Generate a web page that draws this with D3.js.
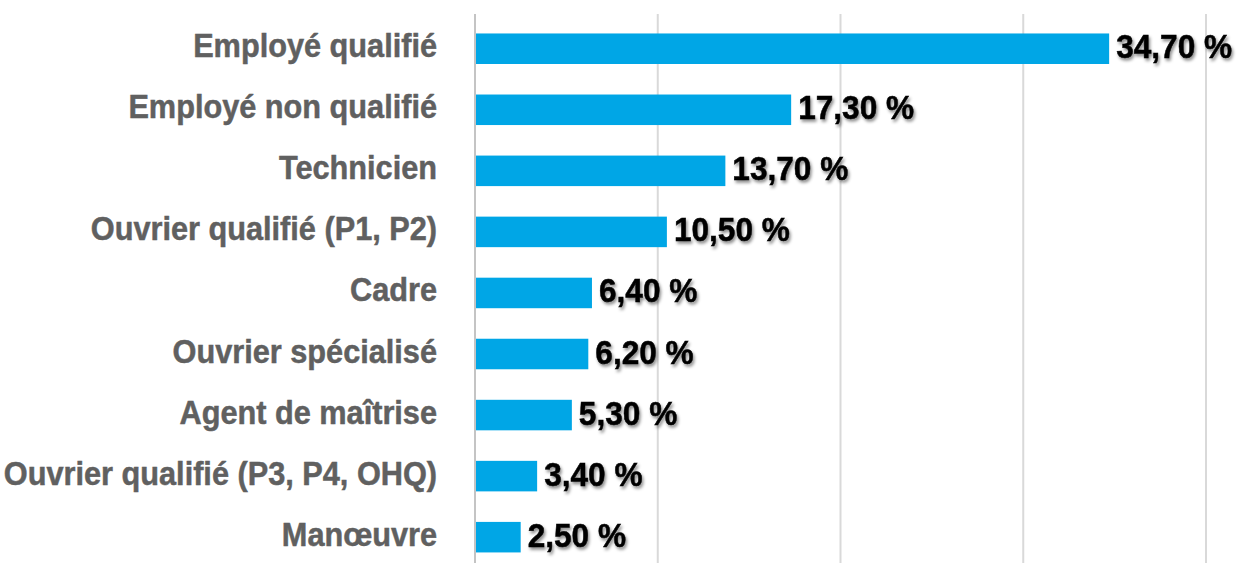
<!DOCTYPE html>
<html>
<head>
<meta charset="utf-8">
<script src="https://cdn.jsdelivr.net/npm/d3@7"></script>
<style>
  html, body { margin: 0; padding: 0; background: #fff; }
  svg { display: block; }
</style>
</head>
<body>
<svg id="chart" width="1239" height="563"></svg>
<script>
// Répartition par catégorie socioprofessionnelle (%)
const categories = [
  "Employé qualifié",
  "Employé non qualifié",
  "Technicien",
  "Ouvrier qualifié (P1, P2)",
  "Cadre",
  "Ouvrier spécialisé",
  "Agent de maîtrise",
  "Ouvrier qualifié (P3, P4, OHQ)",
  "Manœuvre"
];
const values = [34.7, 17.3, 13.7, 10.5, 6.4, 6.2, 5.3, 3.4, 2.5];
const gridTicks = [0, 10, 20, 30, 40];

const svg = d3.select("#chart");
const W = 1239, H = 563;

const x = d3.scaleLinear().domain([0, 40]).range([475, 1206]);
const y = d3.scaleBand()
  .domain(categories)
  .range([18.2, 567.7])
  .paddingInner(0.5)
  .paddingOuter(0.25);

const fmt = v => d3.format(".2f")(v).replace(".", ",") + " %";
const FONT = "'Liberation Sans', Arial, sans-serif";
const FS = 34;

// soft drop shadow for the value labels
const defs = svg.append("defs");
const f = defs.append("filter").attr("id", "shadow")
  .attr("x", "-10%").attr("y", "-30%").attr("width", "130%").attr("height", "170%");
f.append("feDropShadow")
  .attr("dx", 1.5).attr("dy", 2.5).attr("stdDeviation", 1.8)
  .attr("flood-color", "#000").attr("flood-opacity", 0.45);

// vertical gridlines
svg.append("g").selectAll("line")
  .data(gridTicks.filter(d => d > 0))
  .join("line")
  .attr("x1", d => x(d)).attr("x2", d => x(d))
  .attr("y1", 14).attr("y2", H)
  .attr("stroke", "#d9d9d9").attr("stroke-width", 2);

// bars
svg.append("g").selectAll("rect")
  .data(categories)
  .join("rect")
  .attr("x", x(0))
  .attr("y", d => y(d))
  .attr("width", (d, i) => x(values[i]) - x(0))
  .attr("height", y.bandwidth())
  .attr("fill", "#00a6e6");

// category axis line
svg.append("line")
  .attr("x1", x(0)).attr("x2", x(0))
  .attr("y1", 14).attr("y2", H)
  .attr("stroke", "#c4c4c4").attr("stroke-width", 2);

// category labels (condensed by a horizontal squeeze)
const catText = svg.append("g").selectAll("text")
  .data(categories)
  .join("text")
  .attr("text-anchor", "end")
  .attr("font-family", FONT)
  .attr("font-weight", "bold")
  .attr("font-size", FS)
  .attr("fill", "#606060")
  .attr("stroke", "#606060")
  .attr("stroke-width", 0.5)
  .text(d => d);
const catScale = 244 / catText.node().getComputedTextLength();
catText.attr("transform", d => `translate(437,${y(d) + y.bandwidth() / 2 + 8.5}) scale(${catScale},1)`);

// value labels
const valText = svg.append("g").attr("filter", "url(#shadow)").selectAll("text")
  .data(categories)
  .join("text")
  .attr("text-anchor", "start")
  .attr("font-family", FONT)
  .attr("font-weight", "bold")
  .attr("font-size", FS)
  .attr("fill", "#000")
  .attr("stroke", "#000")
  .attr("stroke-width", 0.5)
  .text((d, i) => fmt(values[i]));
const valScale = 116 / valText.node().getComputedTextLength();
valText.attr("transform", (d, i) => `translate(${x(values[i]) + 7},${y(d) + y.bandwidth() / 2 + 9.5}) scale(${valScale},1)`);
</script>
</body>
</html>
